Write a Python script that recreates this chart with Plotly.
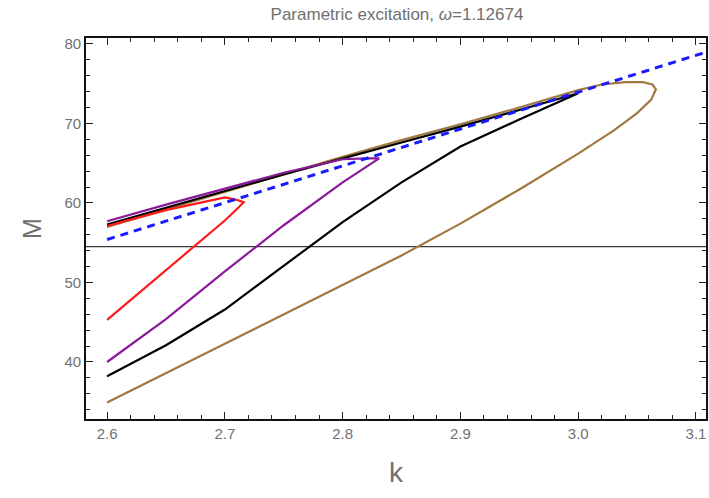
import plotly.graph_objects as go

# ---- data ----
k_red = [2.6, 2.65, 2.70, 2.712, 2.716, 2.71, 2.70, 2.65, 2.60]
M_red = [45.3, 51.5, 57.8, 59.5, 60.1, 60.4, 60.7, 59.1, 57.1]

k_purple = [2.6, 2.65, 2.70, 2.75, 2.80, 2.831, 2.82, 2.80, 2.75, 2.70, 2.65, 2.60]
M_purple = [40.0, 45.4, 51.4, 57.2, 62.6, 65.6, 65.6, 65.5, 63.8, 61.8, 59.8, 57.7]

k_black = [2.6, 2.65, 2.70, 2.75, 2.80, 2.85, 2.90, 2.95, 3.00,
           2.95, 2.90, 2.85, 2.80, 2.75, 2.70, 2.65, 2.60]
M_black = [38.2, 42.1, 46.6, 52.1, 57.6, 62.6, 67.1, 70.5, 73.8,
           71.7, 69.6, 67.6, 65.6, 63.6, 61.5, 59.4, 57.3]

k_brown = [2.6, 2.65, 2.70, 2.75, 2.80, 2.85, 2.90, 2.95, 3.00, 3.03, 3.05,
           3.062, 3.066, 3.063, 3.055, 3.04, 3.02, 3.00,
           2.95, 2.90, 2.85, 2.80, 2.75, 2.70, 2.65, 2.60]
M_brown = [34.9, 38.6, 42.3, 45.9, 49.6, 53.4, 57.4, 61.7, 66.2, 69.1, 71.3,
           73.0, 74.3, 74.9, 75.2, 75.2, 74.9, 74.2,
           72.0, 69.9, 67.9, 65.8, 63.6, 61.4, 59.2, 57.0]

k_dash = [2.6, 3.12]
M_dash = [55.4, 79.5]

M_level = 54.5

x_range = [2.5821, 3.1085]
y_range = [32.83, 80.75]

fig = go.Figure()

def add_curve(k, m, color, width=2.2, dash=None):
    fig.add_trace(go.Scatter(x=k, y=m, mode="lines",
                             line=dict(color=color, width=width, dash=dash),
                             showlegend=False, hoverinfo="skip"))

fig.add_hline(y=M_level, line=dict(color="#3a3a3a", width=1.2), layer="below")
add_curve(k_brown, M_brown, "#a07840")
add_curve(k_black, M_black, "#000000")
add_curve(k_purple, M_purple, "#8b1a9b")
add_curve(k_red, M_red, "#ff1a1a")
add_curve(k_dash, M_dash, "#1a1aff", width=3, dash="8px,6px")

font_fam = "Liberation Sans, Arial, sans-serif"
axis_common = dict(
    showgrid=False, zeroline=False,
    showline=True, linecolor="#111111", linewidth=1.6, mirror="ticks",
    ticks="inside", ticklen=7, tickwidth=1, tickcolor="#222222",
    tickfont=dict(family=font_fam, size=15, color="#707070"),
)

fig.update_xaxes(range=x_range, tick0=2.6, dtick=0.1, tickformat=".1f",
                 minor=dict(ticks="inside", ticklen=4, dtick=0.02, tick0=2.6,
                            tickcolor="#222222", tickwidth=1),
                 title=dict(text="k", font=dict(family=font_fam, size=28, color="#707070"),
                            standoff=22),
                 **axis_common)
fig.update_yaxes(range=y_range, tick0=40, dtick=10,
                 minor=dict(ticks="inside", ticklen=4, dtick=2, tick0=40,
                            tickcolor="#222222", tickwidth=1),
                 title=dict(text="M", font=dict(family=font_fam, size=25, color="#707070"),
                            standoff=16),
                 **axis_common)

fig.update_layout(
    width=709, height=498,
    margin=dict(l=86, r=1, t=38, b=79),
    paper_bgcolor="white", plot_bgcolor="white",
    title=dict(text="Parametric excitation, <i>ω</i>=1.12674",
               x=(86 + 708) / 2 / 709, xanchor="center", y=1 - 14 / 498, yanchor="middle",
               font=dict(family=font_fam, size=17, color="#707070")),
)

fig.write_html("out.html")
